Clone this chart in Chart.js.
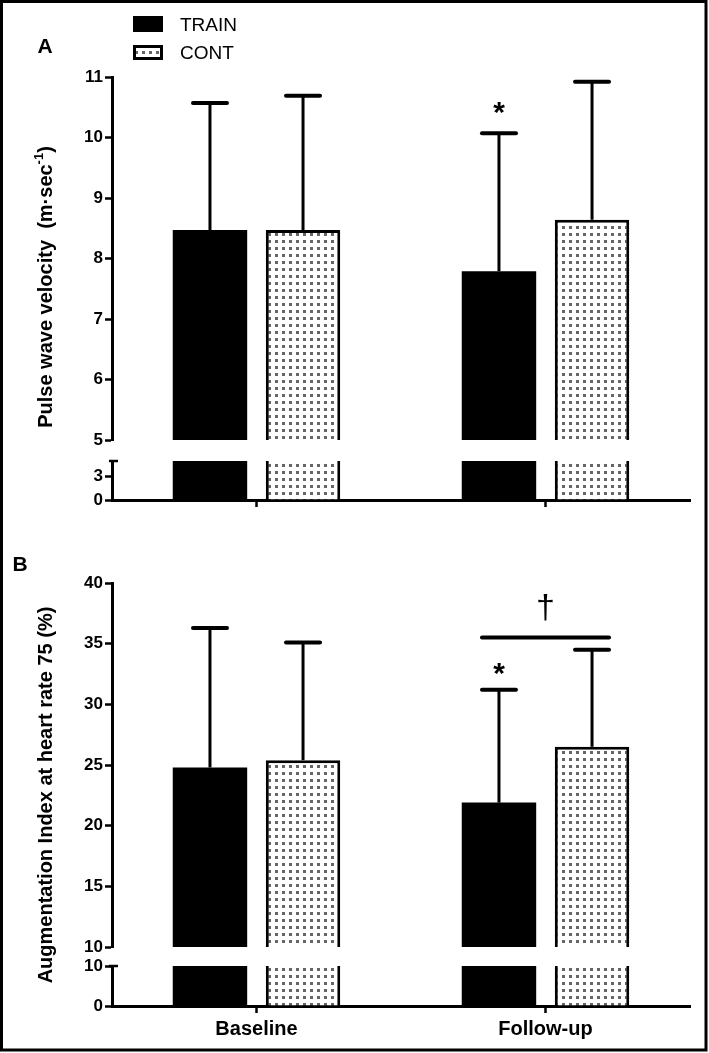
<!DOCTYPE html>
<html>
<head>
<meta charset="utf-8">
<script src="https://cdn.jsdelivr.net/npm/chart.js@4.4.0/dist/chart.umd.min.js"></script>
<style>
  html, body { margin: 0; padding: 0; background: #fff; }
  #lienzo { position: relative; width: 709px; height: 1053px; }
  #lienzo canvas { position: absolute; left: 0; top: 0; }
</style>
</head>
<body>
<div id="lienzo">
  <canvas id="aArriba" width="709" height="1053"></canvas>
  <canvas id="aAbajo" width="709" height="1053"></canvas>
  <canvas id="bArriba" width="709" height="1053"></canvas>
  <canvas id="bAbajo" width="709" height="1053"></canvas>
</div>
<script>
// Categorías y series
const grupos = ['Baseline', 'Follow-up'];
const series = ['TRAIN', 'CONT'];

// Panel A: Pulse wave velocity (media y DE)
const pwvTrain = [8.47, 7.79];
const pwvTrainSd = [2.10, 2.28];
const pwvCont = [8.47, 8.64];
const pwvContSd = [2.22, 2.28];
const pwvTicksArriba = [5, 6, 7, 8, 9, 10, 11];
const pwvTicksAbajo = [0, 3];
const pwvSig = ['', '*'];

// Panel B: Augmentation Index a FC 75 (media y DE)
const aixTrain = [24.8, 21.9];
const aixTrainSd = [11.5, 9.3];
const aixCont = [25.4, 26.5];
const aixContSd = [9.7, 8.0];
const aixTicksArriba = [10, 15, 20, 25, 30, 35, 40];
const aixTicksAbajo = [0, 10];
const aixSig = ['', '*'];
const aixLineaSig = 35.5; // línea TRAIN vs CONT en Follow-up (†)

const FUENTE = "'Liberation Sans', Arial, sans-serif";
Chart.defaults.font.family = FUENTE;
Chart.defaults.color = '#000';

// Celda del patrón punteado de CONT
const celda = document.createElement('canvas');
celda.width = 7; celda.height = 7;
(function () {
    const g = celda.getContext('2d');
    g.fillStyle = '#fff';
    g.fillRect(0, 0, 7, 7);
    g.fillStyle = '#666';
    g.fillRect(2, 2, 3, 3);
})();

// Dibuja texto centrando su caja real en (x, yc)
function textoCentrado(ctx, txt, x, yc) {
    const m = ctx.measureText(txt);
    ctx.textAlign = 'center';
    ctx.textBaseline = 'alphabetic';
    ctx.fillText(txt, x, yc + (m.actualBoundingBoxAscent - m.actualBoundingBoxDescent) / 2);
}

// Barras de error (solo hacia arriba) y asteriscos
function barrasError(distAsterisco) {
    return {
        id: 'barrasError',
        afterDatasetsDraw(chart) {
            const ctx = chart.ctx;
            const y = chart.scales.y;
            ctx.save();
            ctx.strokeStyle = '#000';
            ctx.fillStyle = '#000';
            chart.data.datasets.forEach((ds, di) => {
                chart.getDatasetMeta(di).data.forEach((barra, i) => {
                    const yTope = y.getPixelForValue(ds.data[i] + ds.sd[i]);
                    ctx.lineWidth = 3;
                    ctx.lineCap = 'butt';
                    ctx.beginPath();
                    ctx.moveTo(barra.x, barra.y);
                    ctx.lineTo(barra.x, yTope);
                    ctx.stroke();
                    ctx.lineWidth = 4;
                    ctx.lineCap = 'round';
                    ctx.beginPath();
                    ctx.moveTo(barra.x - 17, yTope);
                    ctx.lineTo(barra.x + 17, yTope);
                    ctx.stroke();
                    if (ds.sig && ds.sig[i]) {
                        ctx.font = 'bold 30px ' + FUENTE;
                        textoCentrado(ctx, ds.sig[i], barra.x, yTope - distAsterisco);
                    }
                });
            });
            ctx.restore();
        }
    };
}

// Línea de comparación con la daga en Follow-up
const lineaDaga = {
    id: 'lineaDaga',
    afterDatasetsDraw(chart) {
        const ctx = chart.ctx;
        const bt = chart.getDatasetMeta(0).data[1];
        const bc = chart.getDatasetMeta(1).data[1];
        const yl = chart.scales.y.getPixelForValue(aixLineaSig);
        ctx.save();
        ctx.strokeStyle = '#000';
        ctx.lineWidth = 4;
        ctx.lineCap = 'round';
        ctx.beginPath();
        ctx.moveTo(bt.x - 17, yl);
        ctx.lineTo(bc.x + 17, yl);
        ctx.stroke();
        ctx.fillStyle = '#000';
        ctx.font = '34px ' + FUENTE;
        textoCentrado(ctx, '\u2020', (bt.x + bc.x) / 2, yl - 30);
        ctx.restore();
    }
};

// Pequeño remate arriba del eje cortado
const remateCorte = {
    id: 'remateCorte',
    afterDraw(chart) {
        const ctx = chart.ctx;
        const a = chart.chartArea;
        ctx.save();
        ctx.strokeStyle = '#000';
        ctx.lineWidth = 2.5;
        ctx.beginPath();
        ctx.moveTo(a.left - 3, a.top);
        ctx.lineTo(a.left + 6, a.top);
        ctx.stroke();
        ctx.restore();
    }
};

// Título del eje Y rotado, con superíndice opcional
function tituloY(partes, x, yc) {
    return {
        id: 'tituloY',
        afterDraw(chart) {
            const ctx = chart.ctx;
            ctx.save();
            ctx.fillStyle = '#000';
            ctx.translate(x, yc);
            ctx.rotate(-Math.PI / 2);
            ctx.textBaseline = 'middle';
            ctx.textAlign = 'left';
            let total = 0;
            partes.forEach(p => {
                ctx.font = (p.sup ? 'bold 13px ' : 'bold 20px ') + FUENTE;
                p.w = ctx.measureText(p.t).width;
                total += p.w;
            });
            let pos = -total / 2;
            partes.forEach(p => {
                ctx.font = (p.sup ? 'bold 13px ' : 'bold 20px ') + FUENTE;
                ctx.fillText(p.t, pos, p.sup ? -7 : 0);
                pos += p.w;
            });
            ctx.restore();
        }
    };
}

// Leyenda y letra del panel A
const leyendaA = {
    id: 'leyendaA',
    afterDraw(chart) {
        const ctx = chart.ctx;
        ctx.save();
        ctx.fillStyle = '#000';
        ctx.fillRect(133, 16, 30, 16);
        ctx.fillStyle = ctx.createPattern(celda, 'repeat');
        ctx.fillRect(133, 45, 30, 15);
        ctx.strokeStyle = '#000';
        ctx.lineWidth = 3;
        ctx.strokeRect(134.5, 46.5, 27, 12);
        ctx.fillStyle = '#000';
        ctx.font = '19px ' + FUENTE;
        ctx.textAlign = 'left';
        ctx.textBaseline = 'alphabetic';
        ctx.fillText(series[0], 180, 30.5);
        ctx.fillText(series[1], 180, 58.5);
        ctx.font = 'bold 21px ' + FUENTE;
        ctx.textAlign = 'center';
        ctx.fillText('A', 45, 52.5);
        ctx.restore();
    }
};

const letraB = {
    id: 'letraB',
    afterDraw(chart) {
        const ctx = chart.ctx;
        ctx.save();
        ctx.fillStyle = '#000';
        ctx.font = 'bold 21px ' + FUENTE;
        ctx.textAlign = 'center';
        ctx.fillText('B', 20, 571);
        ctx.restore();
    }
};

const marco = {
    id: 'marco',
    afterDraw(chart) {
        const ctx = chart.ctx;
        ctx.save();
        ctx.strokeStyle = '#000';
        ctx.lineWidth = 3;
        ctx.strokeRect(1.5, 1.5, 704.5, 1048.5);
        ctx.restore();
    }
};

// Crea un tramo (superior o inferior) del eje Y cortado
function tramo(id, o) {
    const ctx = document.getElementById(id).getContext('2d');
    const relleno = ctx.createPattern(celda, 'repeat');
    return new Chart(ctx, {
        type: 'bar',
        data: {
            labels: grupos,
            datasets: [
                {
                    label: series[0], data: o.train, sd: o.trainSd, sig: o.sig,
                    backgroundColor: '#000', borderWidth: 0, clip: 0,
                    categoryPercentage: 0.644, barPercentage: 0.8
                },
                {
                    label: series[1], data: o.cont, sd: o.contSd,
                    backgroundColor: relleno, borderColor: '#000', borderWidth: 3,
                    borderSkipped: 'start', clip: 0,
                    categoryPercentage: 0.644, barPercentage: 0.8
                }
            ]
        },
        options: {
            responsive: false,
            animation: false,
            events: [],
            layout: { padding: o.padding },
            plugins: { legend: { display: false }, tooltip: { enabled: false } },
            scales: {
                x: {
                    type: 'category',
                    offset: true,
                    display: o.ejeX !== 'no',
                    afterFit: s => { s.height = o.altoX || 0; },
                    border: { display: true, color: '#000', width: 3 },
                    grid: {
                        display: true, offset: false, drawOnChartArea: false,
                        tickLength: 7, tickWidth: 2.5, tickColor: '#000'
                    },
                    ticks: {
                        display: o.ejeX === 'etiquetas',
                        color: '#000',
                        font: { size: 20, weight: 'bold' },
                        padding: 4
                    }
                },
                y: {
                    min: o.min,
                    max: o.max,
                    afterBuildTicks: s => { s.ticks = o.ticks.map(v => ({ value: v })); },
                    afterFit: s => { s.width = 60; },
                    border: { display: true, color: '#000', width: 3 },
                    grid: {
                        display: true, drawOnChartArea: false,
                        tickLength: 7, tickWidth: 2.5, tickColor: '#000'
                    },
                    ticks: { color: '#000', font: { size: 17, weight: 'bold' }, padding: 2 }
                }
            }
        },
        plugins: o.plugins || []
    });
}

// Panel A
tramo('aArriba', {
    train: pwvTrain, trainSd: pwvTrainSd, cont: pwvCont, contSd: pwvContSd, sig: pwvSig,
    min: 5, max: 11, ticks: pwvTicksArriba, ejeX: 'no',
    padding: { top: 77, bottom: 613, left: 52, right: 19 },
    plugins: [
        barrasError(25),
        leyendaA,
        tituloY([{ t: 'Pulse wave velocity  (m\u00B7sec' }, { t: '-1', sup: true }, { t: ')' }], 46, 287)
    ]
});
tramo('aAbajo', {
    train: pwvTrain, trainSd: pwvTrainSd, cont: pwvCont, contSd: pwvContSd,
    min: 0, max: 4.9, ticks: pwvTicksAbajo, ejeX: 'marcas', altoX: 20,
    padding: { top: 461, bottom: 533, left: 52, right: 19 },
    plugins: [remateCorte]
});

// Panel B
tramo('bArriba', {
    train: aixTrain, trainSd: aixTrainSd, cont: aixCont, contSd: aixContSd, sig: aixSig,
    min: 10, max: 40, ticks: aixTicksArriba, ejeX: 'no',
    padding: { top: 583, bottom: 106, left: 52, right: 19 },
    plugins: [
        barrasError(21),
        lineaDaga,
        letraB,
        tituloY([{ t: 'Augmentation Index at heart rate 75 (%)' }], 46, 795)
    ]
});
tramo('bAbajo', {
    train: aixTrain, trainSd: aixTrainSd, cont: aixCont, contSd: aixContSd,
    min: 0, max: 10, ticks: aixTicksAbajo, ejeX: 'etiquetas', altoX: 40,
    padding: { top: 966, bottom: 7, left: 52, right: 19 },
    plugins: [remateCorte, marco]
});
</script>
</body>
</html>
